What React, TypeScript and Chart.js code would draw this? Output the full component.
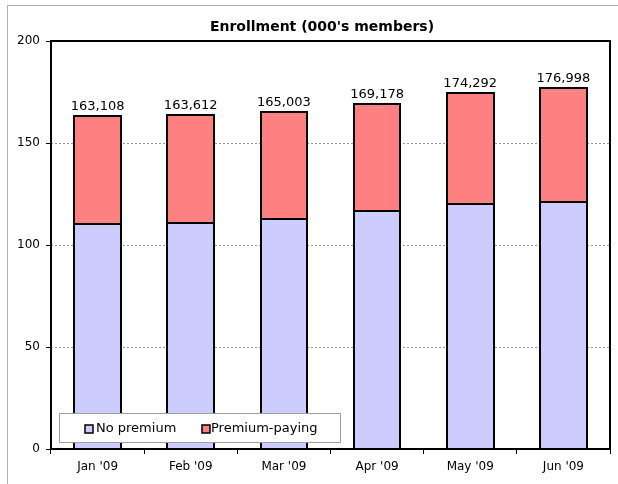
import React, { useEffect, useRef } from "react";
import { Chart, registerables } from "chart.js";

Chart.register(...registerables);

const categories = ["Jan '09", "Feb '09", "Mar '09", "Apr '09", "May '09", "Jun '09"];
const noPremium = [110.3, 110.9, 112.7, 116.8, 119.9, 121.1];
const premiumPaying = [52.8, 52.7, 52.3, 52.4, 54.4, 55.9];
const totalLabels = ["163,108", "163,612", "165,003", "169,178", "174,292", "176,998"];
const titleText = "Enrollment (000's members)";
const seriesNames = ["No premium", "Premium-paying"];
const seriesColors = ["#CCCCFF", "#FF8080"];

const FONT = "'DejaVu Sans', Verdana, sans-serif";

const decorPlugin = {
  id: "decor",
  beforeDraw(chart: any) {
    const ctx = chart.ctx;
    ctx.save();
    ctx.fillStyle = "#ffffff";
    ctx.fillRect(0, 0, chart.width, chart.height);
    ctx.strokeStyle = "#b0b0b0";
    ctx.lineWidth = 1;
    ctx.strokeRect(7.5, 5.5, chart.width + 20, chart.height + 20);
    ctx.fillStyle = "#000";
    ctx.font = `bold 14px ${FONT}`;
    ctx.textAlign = "center";
    ctx.textBaseline = "middle";
    ctx.fillText(titleText, 322, 27);
    ctx.restore();
  },
  afterDatasetsDraw(chart: any) {
    const ctx = chart.ctx;
    const a = chart.chartArea;
    ctx.save();
    // bar outlines
    ctx.strokeStyle = "#000";
    ctx.lineWidth = 2;
    [0, 1].forEach((d) => {
      chart.getDatasetMeta(d).data.forEach((bar: any) => {
        const x0 = Math.round(bar.x - bar.width / 2);
        const x1 = Math.round(bar.x + bar.width / 2);
        const y0 = Math.round(bar.y);
        const y1 = Math.round(bar.base);
        ctx.strokeRect(x0, y0, x1 - x0, y1 - y0);
      });
    });
    // plot border
    ctx.strokeRect(Math.round(a.left), Math.round(a.top), Math.round(a.right - a.left), Math.round(a.bottom - a.top));
    // total labels
    const meta = chart.getDatasetMeta(1);
    ctx.font = `13px ${FONT}`;
    ctx.fillStyle = "#000";
    ctx.textAlign = "center";
    ctx.textBaseline = "bottom";
    meta.data.forEach((bar: any, i: number) => {
      ctx.fillText(totalLabels[i], bar.x, bar.y - 3);
    });
    // legend
    const lx = 59.5, ly = 413.5, lw = 281, lh = 29;
    ctx.fillStyle = "#fff";
    ctx.fillRect(lx, ly, lw, lh);
    ctx.strokeStyle = "#a0a0a0";
    ctx.lineWidth = 1;
    ctx.strokeRect(lx, ly, lw, lh);
    const cy = 429;
    const items = [
      { mx: 85, tx: 96 },
      { mx: 202, tx: 211 },
    ];
    ctx.font = `13px ${FONT}`;
    ctx.textAlign = "left";
    ctx.textBaseline = "middle";
    items.forEach((it, i) => {
      ctx.fillStyle = seriesColors[i];
      ctx.fillRect(it.mx, cy - 4, 8, 8);
      ctx.strokeStyle = "#000";
      ctx.lineWidth = 1.5;
      ctx.strokeRect(it.mx, cy - 4, 8, 8);
      ctx.fillStyle = "#000";
      ctx.fillText(seriesNames[i], it.tx, cy);
    });
    ctx.restore();
  },
};

export default function App() {
  const ref = useRef<HTMLCanvasElement>(null);
  useEffect(() => {
    if (!ref.current) return;
    const chart = new Chart(ref.current, {
      type: "bar",
      data: {
        labels: categories,
        datasets: [
          {
            label: seriesNames[0],
            data: noPremium,
            backgroundColor: seriesColors[0],
            borderWidth: 0,
            barPercentage: 0.5,
            categoryPercentage: 1,
          },
          {
            label: seriesNames[1],
            data: premiumPaying,
            backgroundColor: seriesColors[1],
            borderWidth: 0,
            barPercentage: 0.5,
            categoryPercentage: 1,
          },
        ],
      },
      options: {
        responsive: false,
        animation: false,
        devicePixelRatio: 1,
        layout: { padding: { left: 0, top: 41, right: 8, bottom: 0 } },
        plugins: {
          legend: { display: false },
          title: { display: false },
          tooltip: { enabled: false },
        },
        scales: {
          x: {
            stacked: true,
            afterFit: (s: any) => {
              s.height = 35;
            },
            grid: {
              offset: true,
              drawOnChartArea: false,
              drawTicks: true,
              tickLength: 5,
              color: "#000",
            },
            border: { display: false },
            ticks: {
              color: "#000",
              font: { family: FONT, size: 12 },
              padding: 6,
              maxRotation: 0,
            },
          },
          y: {
            stacked: true,
            min: 0,
            max: 200,
            afterFit: (s: any) => {
              s.width = 51;
            },
            ticks: {
              stepSize: 50,
              color: "#000",
              font: { family: FONT, size: 12 },
              padding: 6,
            },
            grid: {
              color: (c: any) => (c.tick && (c.tick.value === 0 || c.tick.value === 200) ? "rgba(0,0,0,0)" : "#999"),
              tickColor: "#000",
              tickLength: 5,
              drawTicks: true,
            },
            border: { display: false, dash: [2, 2] },
          },
        },
      },
      plugins: [decorPlugin],
    });
    return () => chart.destroy();
  }, []);
  return (
    <div style={{ position: "fixed", left: 0, top: 0, width: 618, height: 484 }}>
      <canvas ref={ref} width={618} height={484} style={{ width: 618, height: 484 }} />
    </div>
  );
}
